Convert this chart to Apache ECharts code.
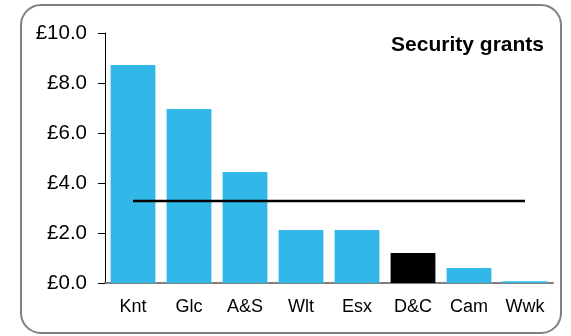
<!DOCTYPE html>
<html>
<head>
<meta charset="utf-8">
<script src="https://cdn.jsdelivr.net/npm/echarts@6/dist/echarts.min.js"></script>
<style>
html,body{margin:0;padding:0;background:#fff;}
#c{width:571px;height:336px;}
</style>
</head>
<body>
<div id="c"></div>
<script>
var categories = ['Knt', 'Glc', 'A&S', 'Wlt', 'Esx', 'D&C', 'Cam', 'Wwk'];
var grants = [8.72, 6.96, 4.44, 2.12, 2.12, 1.2, 0.6, 0.07];
var average = [3.28, 3.28, 3.28, 3.28, 3.28, 3.28, 3.28, 3.28];
var highlight = 'D&C';
var titleText = 'Security grants';

var font = 'Liberation Sans, Arial, sans-serif';
var chart = echarts.init(document.getElementById('c'), null, {renderer: 'canvas'});
chart.setOption({
  animation: false,
  backgroundColor: '#ffffff',
  title: {
    text: titleText, right: 22, top: 30,
    textStyle: {fontFamily: font, fontSize: 21, fontWeight: 'bold', color: '#000'}
  },
  graphic: [{
    type: 'rect', silent: true,
    shape: {x: 21, y: 5, width: 540, height: 328, r: 20},
    style: {fill: 'none', stroke: '#808080', lineWidth: 2}
  }],
  grid: {left: 105, right: 18, top: 33, bottom: 53},
  xAxis: {
    type: 'category', data: categories,
    axisLine: {lineStyle: {color: '#808080', width: 2}},
    axisTick: {show: false},
    axisLabel: {fontFamily: font, fontSize: 18, color: '#000', margin: 15}
  },
  yAxis: {
    type: 'value', min: 0, max: 10, interval: 2,
    axisLine: {show: true, lineStyle: {color: '#000', width: 1}},
    axisTick: {show: true, length: 7, lineStyle: {color: '#000'}},
    splitLine: {show: false},
    axisLabel: {fontFamily: font, fontSize: 20.5, color: '#000', margin: 18,
      formatter: function (v) { return '£' + v.toFixed(1); }}
  },
  series: [{
    type: 'bar', barCategoryGap: '20%',
    data: grants.map(function (v, i) {
      return {value: v, itemStyle: {color: categories[i] === highlight ? '#000000' : '#31B7E8'}};
    })
  }, {
    type: 'line', data: average, symbol: 'none', z: 5,
    lineStyle: {color: '#000', width: 2.5}
  }]
});
</script>
</body>
</html>
